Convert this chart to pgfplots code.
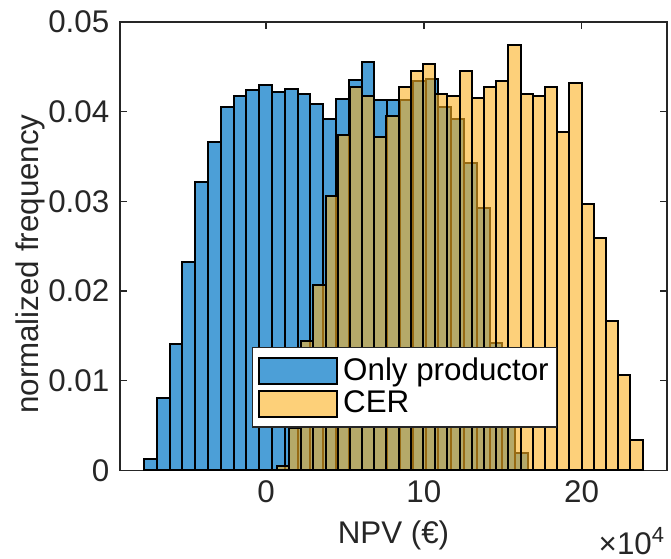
\documentclass[border=0pt]{standalone}
\usepackage{fontspec}
\setmainfont{Liberation Sans}
\usepackage{pgfplots}
\pgfplotsset{compat=1.18}

\definecolor{mblue}{RGB}{76,159,215}
\definecolor{myellow}{RGB}{252,177,33}
\definecolor{axgray}{RGB}{38,38,38}

\newcommand{\labfont}{\fontsize{23.5}{28}\selectfont}

\pgfplotsset{
  histbar/.style={
    ybar interval, draw=black, line width=1.5pt,
    legend image code/.code={\draw[##1] (0pt,-9.75pt) rectangle (58.5pt,9.75pt);}
  }
}

\begin{document}
\labfont
\begin{tikzpicture}
\useasboundingbox (-90pt,-66.5pt) rectangle (413.25pt,352.7pt);
\begin{axis}[
  name=ax,
  at={(0pt,0pt)}, anchor=south west,
  scale only axis, width=410.25pt, height=336.2pt,
  xmin=-9.26, xmax=25.42, ymin=0, ymax=0.05,
  xtick={0,10,20}, xticklabels={0,10,20},
  ytick={0,0.01,0.02,0.03,0.04,0.05},
  yticklabels={0,0.01,0.02,0.03,0.04,0.05},
  scaled y ticks=false, scaled x ticks=false,
  tick align=inside, major tick length=5.25pt,
  axis line style={draw=axgray, line width=1.1pt},
  every tick/.style={draw=axgray, line width=1.1pt},
  tick label style={text=axgray, font=\labfont},
  /pgf/number format/assume math mode=true,
  xlabel={NPV (€)},
  ylabel={normalized frequency},
  label style={text=axgray, font=\labfont},
  xlabel style={yshift=3pt},
  ylabel style={at={([xshift=-56pt]rel axis cs:0,0.46)}, anchor=south, inner sep=0pt},
  legend style={
    at={(rel axis cs:0.241,0.275)}, anchor=north west,
    draw=axgray, line width=1.1pt, fill=white,
    font=\labfont, text=black,
    inner xsep=4pt, inner ysep=5.5pt, row sep=0pt, column sep=2pt,
  },
  legend cell align=left,
]
% Only productor: 30 bins, probability-normalised
\addplot[histbar, fill=mblue] coordinates {
  (-7.734,0.0013) (-6.923,0.0081) (-6.111,0.0141) (-5.300,0.0232)
  (-4.488,0.0321) (-3.677,0.0366) (-2.866,0.0405) (-2.054,0.0417)
  (-1.243,0.0424) (-0.431,0.0430) (0.380,0.0422) (1.191,0.0425)
  (2.003,0.0420) (2.814,0.0408) (3.626,0.0392) (4.437,0.0414)
  (5.248,0.0435) (6.060,0.0455) (6.871,0.0413) (7.683,0.0413)
  (8.494,0.0413) (9.305,0.0434) (10.117,0.0436) (10.928,0.0405)
  (11.740,0.0392) (12.551,0.0343) (13.362,0.0293) (14.174,0.0142)
  (14.985,0.0070) (15.797,0.0019) (16.608,0)
};
\addlegendentry{Only productor}
% CER: 30 bins, drawn semi-transparent over the first histogram
\addplot[histbar, fill=myellow, fill opacity=0.6] coordinates {
  (0.678,0.0005) (1.451,0.0047) (2.224,0.0144) (2.997,0.0207)
  (3.770,0.0306) (4.543,0.0374) (5.316,0.0427) (6.089,0.0418)
  (6.862,0.0372) (7.635,0.0395) (8.408,0.0428) (9.181,0.0445)
  (9.954,0.0453) (10.727,0.0420) (11.500,0.0418) (12.273,0.0445)
  (13.046,0.0415) (13.819,0.0428) (14.592,0.0434) (15.365,0.0474)
  (16.138,0.0420) (16.911,0.0418) (17.684,0.0428) (18.457,0.0377)
  (19.230,0.0432) (20.003,0.0297) (20.776,0.0259) (21.549,0.0166)
  (22.322,0.0106) (23.095,0.0034) (23.868,0)
};
\addlegendentry{CER}
\end{axis}
\node[anchor=base east, text=axgray, inner sep=0pt]
  at ([xshift=-1.5pt,yshift=-63pt]ax.south east) {×10\textsuperscript{4}};
\end{tikzpicture}
\end{document}
